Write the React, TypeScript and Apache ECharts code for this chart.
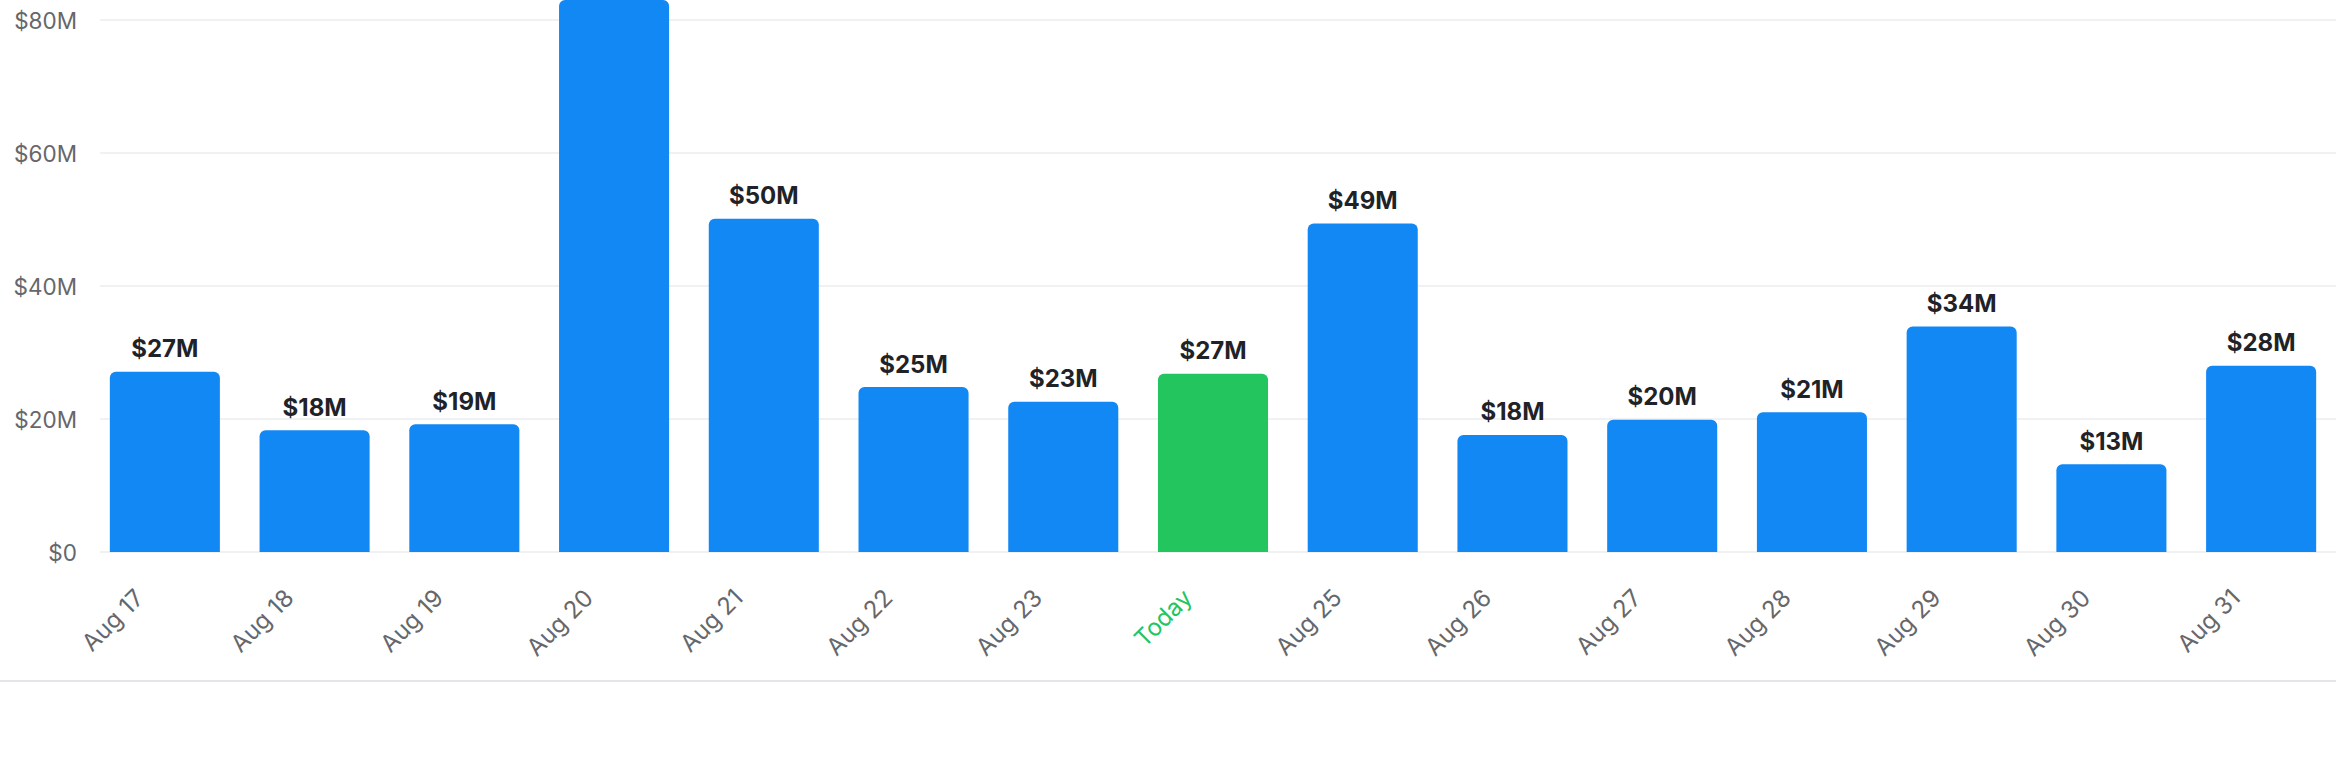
import React, { useEffect, useRef } from "react";
import * as echarts from "echarts";

const categories: string[] = [
  "Aug 17", "Aug 18", "Aug 19", "Aug 20", "Aug 21", "Aug 22", "Aug 23", "Today",
  "Aug 25", "Aug 26", "Aug 27", "Aug 28", "Aug 29", "Aug 30", "Aug 31",
];
// values in millions of dollars
const values: number[] = [
  27.1, 18.3, 19.2, 83.0, 50.1, 24.8, 22.6, 26.8, 49.4, 17.6, 19.9, 21.0, 33.9, 13.2, 28.0,
];
const yTicks: number[] = [0, 20, 40, 60, 80];
const todayLabel = "Today";

const BLUE = "#1288f5";
const GREEN = "#22c55e";
const FONT = "Inter";
const AXIS_TEXT = "#66676b";

export default function App() {
  const ref = useRef<HTMLDivElement>(null);

  useEffect(() => {
    document.body.style.margin = "0";
    if (!ref.current) return;
    const chart = echarts.init(ref.current, undefined, { renderer: "svg" });

    const yMin = yTicks[0];
    const yMax = yTicks[yTicks.length - 1];
    const yInterval = yTicks[1] - yTicks[0];

    const option: any = {
      animation: false,
      backgroundColor: "#ffffff",
      textStyle: { fontFamily: FONT },
      grid: [
        { left: 100, right: 0, top: 20, bottom: 228, containLabel: false },
        { left: 90, right: 0, top: 20, bottom: 228, containLabel: false },
      ],
      xAxis: [
        {
          type: "category",
          gridIndex: 0,
          data: categories,
          show: false,
        },
        {
          type: "category",
          gridIndex: 1,
          data: categories.map((c) =>
            c === todayLabel ? { value: c, textStyle: { color: GREEN } } : c
          ),
          axisLine: { show: false },
          axisTick: { show: false },
          axisLabel: {
            rotate: 45,
            interval: 0,
            margin: 16,
            padding: [0, 36, 0, 0],
            fontSize: 24,
            fontFamily: FONT,
            color: AXIS_TEXT,
          },
        },
      ],
      yAxis: [
        {
          type: "value",
          gridIndex: 0,
          min: yMin,
          max: yMax,
          interval: yInterval,
          axisLine: { show: false },
          axisTick: { show: false },
          axisLabel: {
            margin: 23,
            fontSize: 22.5,
            fontFamily: FONT,
            color: AXIS_TEXT,
            formatter: (v: number) => (v === 0 ? "$0" : `$${v}M`),
          },
          splitLine: { show: true, lineStyle: { color: "#ececf0", width: 1.5 } },
        },
        {
          type: "value",
          gridIndex: 1,
          min: yMin,
          max: yMax,
          interval: yInterval,
          show: false,
          splitLine: { show: false },
        },
      ],
      series: [
        {
          type: "bar",
          xAxisIndex: 1,
          yAxisIndex: 1,
          clip: false,
          barCategoryGap: "26.5%",
          data: values.map((v, i) => ({
            value: v,
            itemStyle: {
              color: categories[i] === todayLabel ? GREEN : BLUE,
              borderRadius: [6, 6, 0, 0],
            },
            label: { show: v <= yMax },
          })),
          label: {
            show: true,
            position: "top",
            distance: 11,
            fontSize: 24,
            fontWeight: "bold",
            fontFamily: FONT,
            color: "#1f2328",
            formatter: (p: any) => `$${Math.round(p.value)}M`,
          },
        },
      ],
      graphic: [
        {
          type: "line",
          shape: { x1: 0, y1: 681, x2: 2336, y2: 681 },
          style: { stroke: "#e3e5e8", lineWidth: 2 },
          silent: true,
        },
      ],
    };

    chart.setOption(option);
    return () => chart.dispose();
  }, []);

  return <div ref={ref} style={{ width: 2336, height: 780 }} />;
}
